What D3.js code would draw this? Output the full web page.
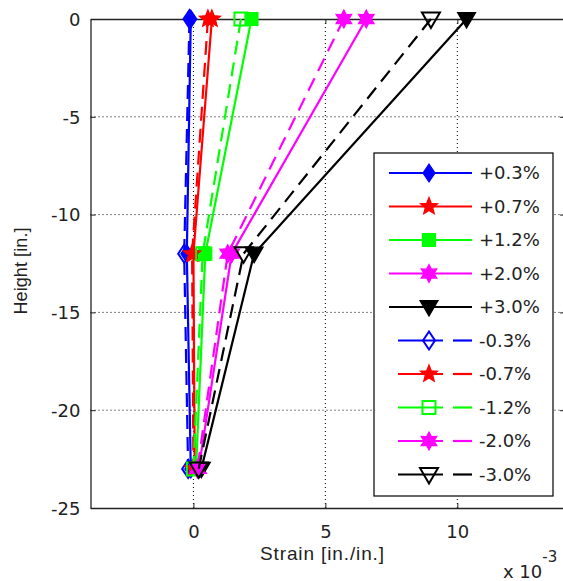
<!DOCTYPE html>
<html><head><meta charset="utf-8">
<script src="https://cdn.jsdelivr.net/npm/d3@7"></script>
<style>body{margin:0;background:#fff}svg{display:block}</style>
</head><body>
<svg id="c" width="563" height="581"></svg>
<script>
// ---- data ----
const heights = [0, -12, -23];
const seriesNames = ["+0.3%","+0.7%","+1.2%","+2.0%","+3.0%","-0.3%","-0.7%","-1.2%","-2.0%","-3.0%"];
const strainP03 = [-0.1, -0.25, -0.1];
const strainP07 = [0.7, 0.0, 0.05];
const strainP12 = [2.2, 0.45, 0.1];
const strainP20 = [6.55, 1.45, 0.2];
const strainP30 = [10.35, 2.3, 0.3];
const strainN03 = [-0.15, -0.35, -0.2];
const strainN07 = [0.55, -0.05, 0.0];
const strainN12 = [1.8, 0.35, 0.0];
const strainN20 = [5.7, 1.3, 0.15];
const strainN30 = [9.0, 1.9, 0.2];
const xTicks = [0, 5, 10];
const yTicks = [0, -5, -10, -15, -20, -25];
const xDomain = [-3.9, 14.08];
const yDomain = [-25, 0];

const allValues = [strainP03,strainP07,strainP12,strainP20,strainP30,strainN03,strainN07,strainN12,strainN20,strainN30];
const colors = ["#0000ff","#ff0000","#00ff00","#ff00ff","#000000"];
const shapes = ["diamond","star","square","hexagram","triangle"];

const series = seriesNames.map((n,i)=>({
  name:n, values:allValues[i], color:colors[i%5], shape:shapes[i%5], dashed:i>=5
}));
// stars and hexagrams render filled even in the open set
const isFilled = s => !s.dashed || s.shape==="star" || s.shape==="hexagram";

const svg = d3.select("#c");
const L=90.5, R=565, T=19, B=508;
const x = d3.scaleLinear().domain(xDomain).range([L,R]);
const y = d3.scaleLinear().domain(yDomain).range([B,T]);

// grid
const g = svg.append("g");
g.selectAll(".gx").data(xTicks).join("line")
  .attr("x1",d=>x(d)).attr("x2",d=>x(d)).attr("y1",T).attr("y2",B)
  .attr("stroke","#000").attr("stroke-width",1).attr("stroke-dasharray","1,3");
g.selectAll(".gy").data(yTicks.filter(d=>d!==0&&d!==-25)).join("line")
  .attr("y1",d=>y(d)).attr("y2",d=>y(d)).attr("x1",L).attr("x2",R)
  .attr("stroke","#000").attr("stroke-width",1).attr("stroke-dasharray","1,3");

// axes
const xAxisB = d3.axisBottom(x).tickValues(xTicks).tickSizeInner(-5).tickSizeOuter(0).tickFormat(d3.format("d"));
const xAxisT = d3.axisTop(x).tickValues(xTicks).tickSizeInner(-5).tickSizeOuter(0).tickFormat("");
const yAxisL = d3.axisLeft(y).tickValues(yTicks).tickSizeInner(-5).tickSizeOuter(0).tickFormat(d=>String(d));
const yAxisR = d3.axisRight(y).tickValues(yTicks).tickSizeInner(-5).tickSizeOuter(0).tickFormat("");

function styleAxis(sel){
  sel.select(".domain").attr("stroke","#222").attr("stroke-width",1.3);
  sel.selectAll(".tick line").attr("stroke","#222");
  sel.selectAll(".tick text").attr("font-family","DejaVu Sans, sans-serif").attr("font-size",18).attr("fill","#222");
}
svg.append("g").attr("transform",`translate(0,${B})`).call(xAxisB).call(styleAxis)
  .selectAll(".tick text").attr("dy",null).attr("y",30);
svg.append("g").attr("transform",`translate(0,${T})`).call(xAxisT).call(styleAxis);
svg.append("g").attr("transform",`translate(${L},0)`).call(yAxisL).call(styleAxis)
  .selectAll(".tick text").attr("x",-10).attr("dy","0.35em");
svg.append("g").attr("transform",`translate(${R},0)`).call(yAxisR).call(styleAxis);

// marker paths
function markerPath(shape){
  if(shape==="diamond"){ return "M0,-9L6,0L0,9L-6,0Z"; }
  if(shape==="square"){ return "M-6.5,-6.5H6.5V6.5H-6.5Z"; }
  if(shape==="triangle"){ return "M-9,-6.5L9,-6.5L0,9Z"; }
  if(shape==="star"){
    let p=[]; for(let k=0;k<10;k++){const r=k%2?3.9:9; const a=-Math.PI/2+k*Math.PI/5; p.push([r*Math.cos(a),r*Math.sin(a)]);}
    return "M"+p.map(q=>q.map(v=>v.toFixed(2)).join(",")).join("L")+"Z";
  }
  if(shape==="hexagram"){
    let p=[]; for(let k=0;k<12;k++){const r=k%2?5:9; const a=-Math.PI/2+k*Math.PI/6; p.push([r*Math.cos(a),r*Math.sin(a)]);}
    return "M"+p.map(q=>q.map(v=>v.toFixed(2)).join(",")).join("L")+"Z";
  }
}

const line = d3.line().x(d=>x(d[0])).y(d=>y(d[1]));
const dash = "14,8";

const plot = svg.append("g");
series.forEach(s=>{
  const pts = s.values.map((v,i)=>[v,heights[i]]);
  plot.append("path").attr("d",line(pts)).attr("fill","none")
    .attr("stroke",s.color).attr("stroke-width",2.2)
    .attr("stroke-dasharray",s.dashed?dash:null);
  plot.selectAll(null).data(pts).join("path")
    .attr("transform",d=>`translate(${x(d[0])},${y(d[1])})`)
    .attr("d",markerPath(s.shape))
    .attr("fill",isFilled(s)?s.color:"none")
    .attr("stroke",s.color).attr("stroke-width",isFilled(s)?1.2:2);
});

// legend
const lg = svg.append("g");
lg.append("rect").attr("x",374).attr("y",153).attr("width",179).attr("height",343)
  .attr("fill","#fff").attr("stroke","#000").attr("stroke-width",1.2);
series.forEach((s,i)=>{
  const yy = 173 + i*33.5;
  if(s.dashed){
    lg.append("line").attr("x1",398).attr("x2",443).attr("y1",yy).attr("y2",yy)
      .attr("stroke",s.color).attr("stroke-width",2.2);
    lg.append("line").attr("x1",453).attr("x2",472).attr("y1",yy).attr("y2",yy)
      .attr("stroke",s.color).attr("stroke-width",2.2);
  } else {
    lg.append("line").attr("x1",389).attr("x2",472).attr("y1",yy).attr("y2",yy)
      .attr("stroke",s.color).attr("stroke-width",2.2);
  }
  lg.append("path").attr("transform",`translate(429,${yy})`).attr("d",markerPath(s.shape))
    .attr("fill",isFilled(s)?s.color:"none").attr("stroke",s.color).attr("stroke-width",isFilled(s)?1.2:2);
  lg.append("text").attr("x",479).attr("y",yy).attr("dy","0.36em")
    .attr("font-family","DejaVu Sans, sans-serif").attr("font-size",18).attr("fill","#222").text(s.name);
});

// titles
svg.append("text").attr("x",322).attr("y",560).attr("text-anchor","middle")
  .attr("font-family","Liberation Sans, Arial, sans-serif").attr("font-size",19).attr("fill","#222")
  .attr("textLength",124).attr("lengthAdjust","spacing").text("Strain [in./in.]");
svg.append("text").attr("transform","translate(27,271) rotate(-90)").attr("text-anchor","middle")
  .attr("font-family","Liberation Sans, Arial, sans-serif").attr("font-size",18).attr("fill","#222")
  .attr("textLength",87).attr("lengthAdjust","spacing").text("Height [in.]");
const ex = svg.append("text").attr("x",503).attr("y",578)
  .attr("font-family","DejaVu Sans, sans-serif").attr("font-size",18).attr("fill","#222");
ex.append("tspan").text("x 10");
ex.append("tspan").attr("dy",-16).attr("font-size",15).text("-3");
</script>
</body></html>
